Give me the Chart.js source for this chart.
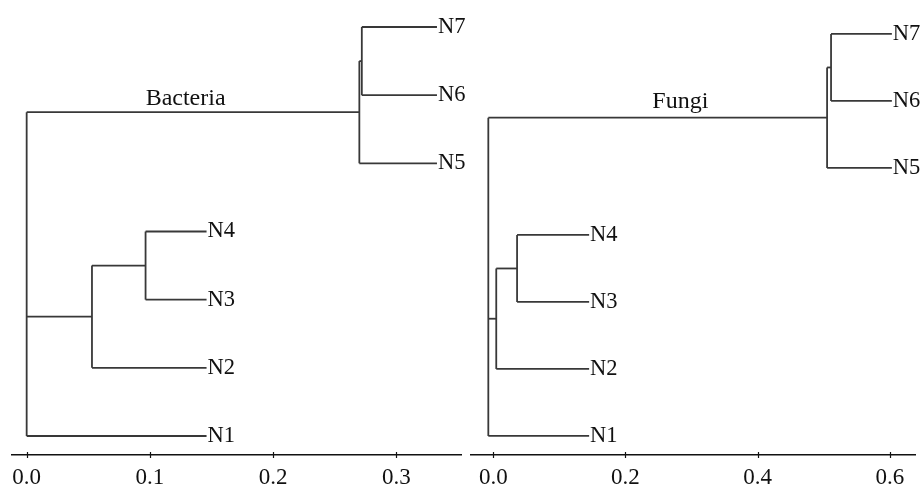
<!DOCTYPE html>
<html>
<head>
<meta charset="utf-8">
<script src="https://cdn.jsdelivr.net/npm/chart.js@4.4.0/dist/chart.umd.min.js"></script>
<style>
html, body { margin: 0; padding: 0; background: #fff; }
#wrap { position: relative; width: 922px; height: 486px; overflow: hidden; }
#left { position: absolute; left: 0; top: 0; width: 480px; height: 486px; }
#right { position: absolute; left: 461px; top: 0; width: 461px; height: 486px; }
</style>
</head>
<body>
<div id="wrap">
  <div id="left"><canvas id="bac"></canvas></div>
  <div id="right"><canvas id="fun"></canvas></div>
</div>
<script>
var leaves = ['N1', 'N2', 'N3', 'N4', 'N5', 'N6', 'N7'];

// Bacteria: where each leaf branch stops, and the joins: [children, distance]
// (a number child points to an earlier join)
var bacLeafEnd = [0.146, 0.146, 0.146, 0.146, 0.333, 0.333, 0.333];
var bacNodes = [
    [['N3', 'N4'], 0.0965],
    [[0, 'N2'], 0.053],
    [['N6', 'N7'], 0.272],
    [[2, 'N5'], 0.270],
    [[3, 1, 'N1'], 0.0]
];
var bacTicks = [0.0, 0.1, 0.2, 0.3];

// Fungi
var funLeafEnd = [0.145, 0.145, 0.145, 0.145, 0.603, 0.603, 0.603];
var funNodes = [
    [['N3', 'N4'], 0.036],
    [[0, 'N2'], 0.0045],
    [['N6', 'N7'], 0.511],
    [[2, 'N5'], 0.505],
    [[3, 1, 'N1'], -0.0075]
];
var funTicks = [0.0, 0.2, 0.4, 0.6];

Chart.defaults.font.family = '"Liberation Serif", "Times New Roman", serif';
Chart.defaults.color = '#111';

function buildTree(nodes, leafEnd) {
    var nodeY = [], segs = [];
    function yOf(c) { return typeof c === 'number' ? nodeY[c] : leaves.indexOf(c) + 1; }
    function xOf(c) { return typeof c === 'number' ? nodes[c][1] : leafEnd[leaves.indexOf(c)]; }
    nodes.forEach(function (n, i) {
        var h = n[1];
        var ys = n[0].map(yOf);
        var lo = Math.min.apply(null, ys), hi = Math.max.apply(null, ys);
        nodeY[i] = (lo + hi) / 2;
        segs.push([{x: h, y: lo}, {x: h, y: hi}]);
        n[0].forEach(function (c) {
            segs.push([{x: h, y: yOf(c)}, {x: xOf(c), y: yOf(c)}]);
        });
    });
    return {segs: segs, nodeY: nodeY};
}

var treeLabels = {
    id: 'treeLabels',
    afterDatasetsDraw: function (chart, args, opts) {
        var ctx = chart.ctx, xs = chart.scales.x, ys = chart.scales.y;
        ctx.save();
        ctx.fillStyle = '#111';
        ctx.font = '22.5px "Liberation Serif"';
        ctx.textAlign = 'left';
        ctx.textBaseline = 'middle';
        leaves.forEach(function (name, i) {
            ctx.fillText(name, xs.getPixelForValue(opts.leafEnd[i]) + 1, ys.getPixelForValue(i + 1));
        });
        ctx.font = '24px "Liberation Serif"';
        ctx.textAlign = 'center';
        ctx.textBaseline = 'alphabetic';
        ctx.fillText(opts.title, xs.getPixelForValue(opts.titleX), ys.getPixelForValue(opts.titleY) - opts.titleGap);
        // small tick marks crossing the axis line
        ctx.strokeStyle = '#111';
        ctx.lineWidth = 1.2;
        var ay = xs.top;
        xs.ticks.forEach(function (t) {
            var px = Math.round(xs.getPixelForValue(t.value)) + 0.5;
            ctx.beginPath();
            ctx.moveTo(px, ay - 3);
            ctx.lineTo(px, ay + 3);
            ctx.stroke();
        });
        ctx.restore();
    }
};

function makeChart(id, title, nodes, leafEnd, ticks, lay) {
    var tree = buildTree(nodes, leafEnd);
    var datasets = tree.segs.map(function (s) {
        return {data: s, borderColor: '#383838', borderWidth: 1.8, pointRadius: 0, fill: false, tension: 0};
    });
    return new Chart(document.getElementById(id), {
        type: 'line',
        data: {datasets: datasets},
        options: {
            responsive: true,
            maintainAspectRatio: false,
            animation: false,
            events: [],
            layout: {padding: {left: lay.padLeft, right: lay.padRight, top: 0, bottom: 0}},
            plugins: {
                legend: {display: false},
                tooltip: {enabled: false},
                treeLabels: {
                    leafEnd: leafEnd,
                    title: title,
                    titleX: lay.titleX,
                    titleY: tree.nodeY[3],
                    titleGap: lay.titleGap
                }
            },
            scales: {
                x: {
                    type: 'linear',
                    min: lay.xMin,
                    max: lay.xMax,
                    grid: {display: false, drawTicks: false},
                    border: {display: true, color: '#111', width: 1.5},
                    afterBuildTicks: function (s) {
                        s.ticks = ticks.map(function (v) { return {value: v}; });
                    },
                    afterFit: function (s) { s.height = lay.axisH; },
                    ticks: {
                        color: '#111',
                        padding: 9,
                        font: {size: 23},
                        maxRotation: 0,
                        callback: function (v) { return v.toFixed(1); }
                    }
                },
                y: {type: 'linear', display: false, min: lay.yMin, max: lay.yMax}
            }
        },
        plugins: [treeLabels]
    });
}

makeChart('bac', 'Bacteria', bacNodes, bacLeafEnd, bacTicks, {
    padLeft: 12, padRight: 19, xMin: -0.0119, xMax: 0.3525,
    yMin: 0.721, yMax: 7.396, axisH: 31, titleX: 0.129, titleGap: 7
});
makeChart('fun', 'Fungi', funNodes, funLeafEnd, funTicks, {
    padLeft: 10, padRight: 7, xMin: -0.0337, xMax: 0.638,
    yMin: 0.716, yMax: 7.507, axisH: 31, titleX: 0.283, titleGap: 10
});
</script>
</body>
</html>
